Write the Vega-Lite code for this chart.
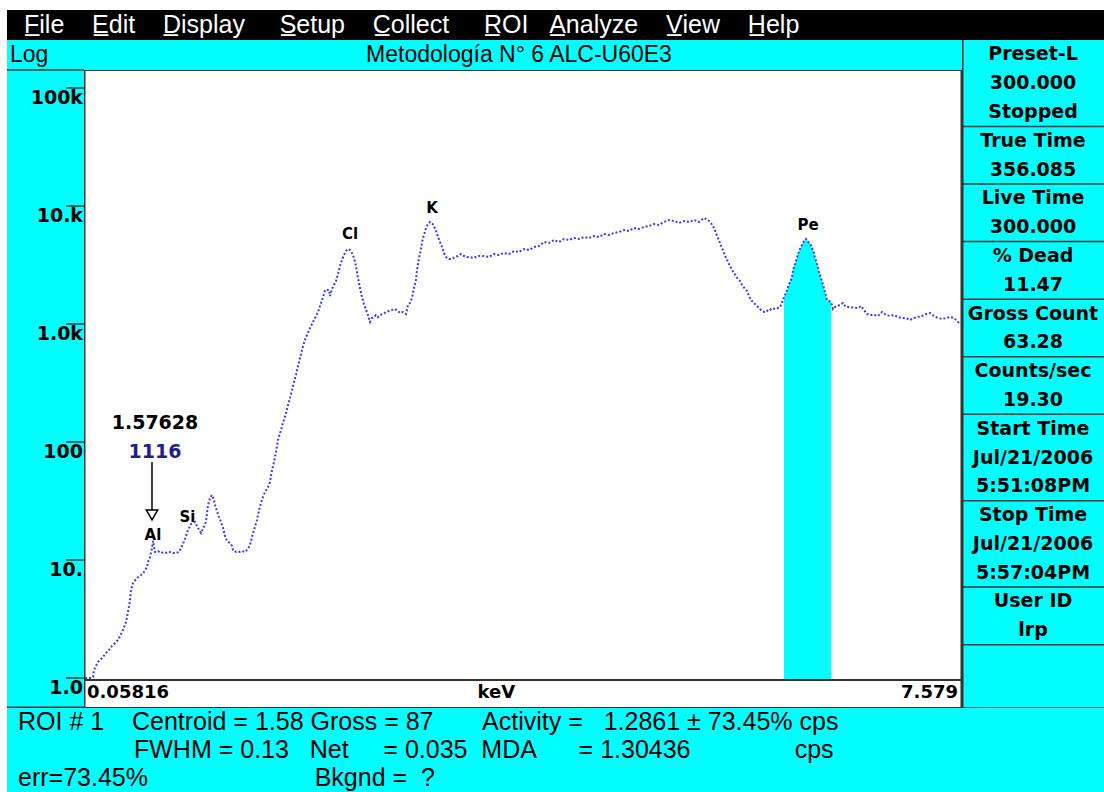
{
  "$schema": "https://vega.github.io/schema/vega-lite/v6.json",
  "background": "white",
  "padding": {"left": 7, "top": 10, "right": 0, "bottom": 0},
  "spacing": 0,
  "config": {"view": {"stroke": null}, "concat": {"spacing": 0}},
  "datasets": {
    "menu": [{"t": "F\u0332ile\u00a0\u00a0\u00a0\u00a0E\u0332dit\u00a0\u00a0\u00a0\u00a0D\u0332isplay\u00a0\u00a0\u00a0\u00a0\u00a0S\u0332etup\u00a0\u00a0\u00a0\u00a0C\u0332ollect\u00a0\u00a0\u00a0\u00a0\u00a0R\u0332OI\u00a0\u00a0\u00a0A\u0332nalyze\u00a0\u00a0\u00a0\u00a0V\u0332iew\u00a0\u00a0\u00a0\u00a0H\u0332elp"}],
    "ticks": [
      {"v": 1, "label": "1.0"}, {"v": 10, "label": "10."}, {"v": 100, "label": "100"},
      {"v": 1000, "label": "1.0k"}, {"v": 10000, "label": "10.k"}, {"v": 100000, "label": "100k"}
    ],
    "status": [
      {"row": 1, "t": "ROI # 1\u00a0\u00a0\u00a0\u00a0Centroid = 1.58 Gross = 87\u00a0\u00a0\u00a0\u00a0\u00a0\u00a0\u00a0Activity =\u00a0\u00a0\u00a01.2861 ± 73.45% cps"},
      {"row": 3, "t": "err=73.45%\u00a0\u00a0\u00a0\u00a0\u00a0\u00a0\u00a0\u00a0\u00a0\u00a0\u00a0\u00a0\u00a0\u00a0\u00a0\u00a0\u00a0\u00a0\u00a0\u00a0\u00a0\u00a0\u00a0\u00a0Bkgnd =\u00a0\u00a0?"}
    ],
    "status2": [
      {"row": 2, "t": "FWHM = 0.13\u00a0\u00a0\u00a0Net\u00a0\u00a0\u00a0\u00a0\u00a0= 0.035\u00a0\u00a0MDA\u00a0\u00a0\u00a0\u00a0\u00a0\u00a0= 1.30436\u00a0\u00a0\u00a0\u00a0\u00a0\u00a0\u00a0\u00a0\u00a0\u00a0\u00a0\u00a0\u00a0\u00a0\u00a0cps"}
    ],
    "side": [
      {"line": 0, "t": "Preset-L"}, {"line": 1, "t": "300.000"}, {"line": 2, "t": "Stopped"},
      {"line": 3, "t": "True Time"}, {"line": 4, "t": "356.085"},
      {"line": 5, "t": "Live Time"}, {"line": 6, "t": "300.000"},
      {"line": 7, "t": "% Dead"}, {"line": 8, "t": "11.47"},
      {"line": 9, "t": "Gross Count"}, {"line": 10, "t": "63.28"},
      {"line": 11, "t": "Counts/sec"}, {"line": 12, "t": "19.30"},
      {"line": 13, "t": "Start Time"}, {"line": 14, "t": "Jul/21/2006"}, {"line": 15, "t": "5:51:08PM"},
      {"line": 16, "t": "Stop Time"}, {"line": 17, "t": "Jul/21/2006"}, {"line": 18, "t": "5:57:04PM"},
      {"line": 19, "t": "User ID"}, {"line": 20, "t": "lrp"}
    ],
    "sideSep": [{"b": 2.5}, {"b": 4.5}, {"b": 6.5}, {"b": 8.5}, {"b": 10.5}, {"b": 12.5}, {"b": 15.5}, {"b": 18.5}, {"b": 20.5}, {"b": 22.7}],
    "peaks": [
      {"e": 0.6492, "c": 16.29, "t": "Al"},
      {"e": 0.9447, "c": 22.92, "t": "Si"},
      {"e": 2.3367, "c": 5790, "t": "Cl"},
      {"e": 3.0391, "c": 9618, "t": "K"},
      {"e": 6.2599, "c": 6902, "t": "Pe"}
    ],
    "spectrum": [
      {"e": 0.0667, "c": 1}, {"e": 0.0839, "c": 1}, {"e": 0.101, "c": 1}, {"e": 0.1181, "c": 1}, {"e": 0.1353, "c": 1.02},
      {"e": 0.1438, "c": 1.169}, {"e": 0.161, "c": 1.264}, {"e": 0.1781, "c": 1.366}, {"e": 0.1952, "c": 1.421},
      {"e": 0.2209, "c": 1.507}, {"e": 0.2466, "c": 1.629}, {"e": 0.2723, "c": 1.727}, {"e": 0.298, "c": 1.867},
      {"e": 0.3237, "c": 1.98}, {"e": 0.3494, "c": 2.099}, {"e": 0.3665, "c": 2.27}, {"e": 0.3922, "c": 2.551},
      {"e": 0.4179, "c": 2.983}, {"e": 0.4351, "c": 3.625}, {"e": 0.4522, "c": 4.581}, {"e": 0.4608, "c": 5.569},
      {"e": 0.4779, "c": 6.39}, {"e": 0.5122, "c": 7.04}, {"e": 0.5464, "c": 7.464}, {"e": 0.5721, "c": 7.912},
      {"e": 0.5978, "c": 8.72}, {"e": 0.6064, "c": 9.62}, {"e": 0.6235, "c": 10.6}, {"e": 0.6406, "c": 12.64},
      {"e": 0.6492, "c": 14.49}, {"e": 0.6663, "c": 11.69}, {"e": 0.692, "c": 11.92}, {"e": 0.7177, "c": 11.47},
      {"e": 0.7434, "c": 11.69}, {"e": 0.7691, "c": 11.47}, {"e": 0.7948, "c": 11.69}, {"e": 0.8205, "c": 11.47},
      {"e": 0.8462, "c": 11.47}, {"e": 0.8719, "c": 11.69}, {"e": 0.8976, "c": 13.14}, {"e": 0.9233, "c": 15.07},
      {"e": 0.949, "c": 17.96}, {"e": 0.9747, "c": 20.19}, {"e": 1.009, "c": 20.99}, {"e": 1.0347, "c": 18.67},
      {"e": 1.0604, "c": 16.93}, {"e": 1.1032, "c": 20.99}, {"e": 1.1203, "c": 29.25}, {"e": 1.1375, "c": 33.53},
      {"e": 1.1546, "c": 35.55}, {"e": 1.1717, "c": 32.25}, {"e": 1.1803, "c": 29.25}, {"e": 1.1974, "c": 26.02},
      {"e": 1.2146, "c": 23.14}, {"e": 1.2317, "c": 20.99}, {"e": 1.2488, "c": 18.67}, {"e": 1.266, "c": 15.97},
      {"e": 1.2831, "c": 14.49}, {"e": 1.3088, "c": 13.93}, {"e": 1.3259, "c": 13.14}, {"e": 1.3345, "c": 12.15},
      {"e": 1.3602, "c": 11.69}, {"e": 1.3859, "c": 11.69}, {"e": 1.4116, "c": 11.92}, {"e": 1.4373, "c": 11.69},
      {"e": 1.463, "c": 12.4}, {"e": 1.4801, "c": 13.4}, {"e": 1.4972, "c": 15.66}, {"e": 1.5144, "c": 17.96},
      {"e": 1.5401, "c": 21.83}, {"e": 1.5572, "c": 26.53}, {"e": 1.5743, "c": 30.42}, {"e": 1.5915, "c": 34.2},
      {"e": 1.6086, "c": 37.7}, {"e": 1.6343, "c": 41.55}, {"e": 1.6514, "c": 45.81}, {"e": 1.6686, "c": 57.91},
      {"e": 1.6857, "c": 67.7}, {"e": 1.7028, "c": 82.3}, {"e": 1.7199, "c": 103.97}, {"e": 1.7456, "c": 126.4},
      {"e": 1.7628, "c": 144.9}, {"e": 1.7885, "c": 176.1}, {"e": 1.8056, "c": 205.9}, {"e": 1.8227, "c": 236},
      {"e": 1.8399, "c": 275.9}, {"e": 1.857, "c": 322.5}, {"e": 1.8741, "c": 369.7}, {"e": 1.8913, "c": 440.8},
      {"e": 1.9084, "c": 515}, {"e": 1.9255, "c": 602.2}, {"e": 1.9427, "c": 690.2}, {"e": 1.9598, "c": 775.9},
      {"e": 1.9769, "c": 838.9}, {"e": 1.9941, "c": 924.9}, {"e": 2.0112, "c": 1000}, {"e": 2.0283, "c": 1081},
      {"e": 2.0455, "c": 1169}, {"e": 2.0626, "c": 1264}, {"e": 2.0797, "c": 1421}, {"e": 2.0968, "c": 1597},
      {"e": 2.114, "c": 1796}, {"e": 2.1225, "c": 1941}, {"e": 2.1397, "c": 1941}, {"e": 2.1568, "c": 1941},
      {"e": 2.1654, "c": 1727}, {"e": 2.1825, "c": 1980}, {"e": 2.1996, "c": 2141}, {"e": 2.2168, "c": 2314},
      {"e": 2.2339, "c": 2653}, {"e": 2.251, "c": 3101}, {"e": 2.2682, "c": 3486}, {"e": 2.2853, "c": 3843},
      {"e": 2.3024, "c": 4156}, {"e": 2.3196, "c": 4322}, {"e": 2.3367, "c": 4238}, {"e": 2.3538, "c": 3997},
      {"e": 2.371, "c": 3625}, {"e": 2.3881, "c": 3101}, {"e": 2.4052, "c": 2454}, {"e": 2.4223, "c": 2019},
      {"e": 2.4395, "c": 1693}, {"e": 2.4566, "c": 1477}, {"e": 2.4737, "c": 1314}, {"e": 2.4909, "c": 1192},
      {"e": 2.508, "c": 1040}, {"e": 2.5251, "c": 1124}, {"e": 2.5423, "c": 1146}, {"e": 2.5594, "c": 1192},
      {"e": 2.5765, "c": 1146}, {"e": 2.5937, "c": 1192}, {"e": 2.6194, "c": 1215}, {"e": 2.6451, "c": 1264},
      {"e": 2.6708, "c": 1289}, {"e": 2.6965, "c": 1314}, {"e": 2.7222, "c": 1340}, {"e": 2.7479, "c": 1289},
      {"e": 2.765, "c": 1239}, {"e": 2.7907, "c": 1264}, {"e": 2.8164, "c": 1215}, {"e": 2.8335, "c": 1449},
      {"e": 2.8506, "c": 1507}, {"e": 2.8678, "c": 1661}, {"e": 2.8849, "c": 2019}, {"e": 2.902, "c": 2360},
      {"e": 2.9106, "c": 2868}, {"e": 2.9277, "c": 3625}, {"e": 2.9449, "c": 4322}, {"e": 2.9534, "c": 4954},
      {"e": 2.9706, "c": 5679}, {"e": 2.9877, "c": 6510}, {"e": 3.0048, "c": 7039}, {"e": 3.022, "c": 7319},
      {"e": 3.0391, "c": 7177}, {"e": 3.0562, "c": 6769}, {"e": 3.0734, "c": 6140}, {"e": 3.0905, "c": 5462},
      {"e": 3.1076, "c": 4954}, {"e": 3.1248, "c": 4494}, {"e": 3.1419, "c": 3997}, {"e": 3.159, "c": 3697},
      {"e": 3.1847, "c": 3555}, {"e": 3.2104, "c": 3555}, {"e": 3.2361, "c": 3697}, {"e": 3.2618, "c": 3771},
      {"e": 3.2875, "c": 3920}, {"e": 3.3132, "c": 3771}, {"e": 3.3389, "c": 3697}, {"e": 3.3646, "c": 3697},
      {"e": 3.3903, "c": 3625}, {"e": 3.416, "c": 3697}, {"e": 3.4417, "c": 3771}, {"e": 3.4845, "c": 3771},
      {"e": 3.5274, "c": 3697}, {"e": 3.5702, "c": 3920}, {"e": 3.613, "c": 3843}, {"e": 3.6558, "c": 3997},
      {"e": 3.6987, "c": 3920}, {"e": 3.7415, "c": 4156}, {"e": 3.7843, "c": 4076}, {"e": 3.8272, "c": 4322},
      {"e": 3.87, "c": 4238}, {"e": 3.9128, "c": 4494}, {"e": 3.9556, "c": 4581}, {"e": 3.9985, "c": 4954},
      {"e": 4.0413, "c": 4859}, {"e": 4.0841, "c": 5150}, {"e": 4.127, "c": 4954}, {"e": 4.1698, "c": 5252},
      {"e": 4.2126, "c": 5150}, {"e": 4.2555, "c": 5356}, {"e": 4.2983, "c": 5252}, {"e": 4.3411, "c": 5462},
      {"e": 4.3839, "c": 5356}, {"e": 4.4268, "c": 5569}, {"e": 4.4696, "c": 5462}, {"e": 4.5124, "c": 5790},
      {"e": 4.5553, "c": 5679}, {"e": 4.5981, "c": 5905}, {"e": 4.6409, "c": 6022}, {"e": 4.6838, "c": 6261},
      {"e": 4.7266, "c": 6140}, {"e": 4.7694, "c": 6510}, {"e": 4.8122, "c": 6385}, {"e": 4.8551, "c": 6637},
      {"e": 4.8979, "c": 6769}, {"e": 4.9407, "c": 7039}, {"e": 4.9836, "c": 6902}, {"e": 5.0264, "c": 7319},
      {"e": 5.0692, "c": 7610}, {"e": 5.112, "c": 7464}, {"e": 5.1549, "c": 7177}, {"e": 5.1977, "c": 7464},
      {"e": 5.2405, "c": 7319}, {"e": 5.2834, "c": 7610}, {"e": 5.3262, "c": 7319}, {"e": 5.369, "c": 7912},
      {"e": 5.4033, "c": 7610}, {"e": 5.429, "c": 7177}, {"e": 5.4547, "c": 6510}, {"e": 5.4718, "c": 5905},
      {"e": 5.4889, "c": 5356}, {"e": 5.5061, "c": 4859}, {"e": 5.5232, "c": 4408}, {"e": 5.5403, "c": 3997},
      {"e": 5.5575, "c": 3625}, {"e": 5.5746, "c": 3353}, {"e": 5.5917, "c": 3101}, {"e": 5.6089, "c": 2868},
      {"e": 5.626, "c": 2706}, {"e": 5.6431, "c": 2552}, {"e": 5.6603, "c": 2407}, {"e": 5.6774, "c": 2314},
      {"e": 5.6945, "c": 2141}, {"e": 5.7202, "c": 1980}, {"e": 5.7374, "c": 1904}, {"e": 5.7545, "c": 1727},
      {"e": 5.7716, "c": 1597}, {"e": 5.7973, "c": 1507}, {"e": 5.823, "c": 1421}, {"e": 5.8487, "c": 1340},
      {"e": 5.8658, "c": 1289}, {"e": 5.883, "c": 1264}, {"e": 5.9001, "c": 1264}, {"e": 5.9172, "c": 1314},
      {"e": 5.9344, "c": 1314}, {"e": 5.9515, "c": 1367}, {"e": 5.9772, "c": 1340}, {"e": 6.0029, "c": 1367},
      {"e": 6.02, "c": 1394}, {"e": 6.0372, "c": 1507}, {"e": 6.0543, "c": 1693}, {"e": 6.0714, "c": 1831},
      {"e": 6.0886, "c": 2059}, {"e": 6.1057, "c": 2269}, {"e": 6.1228, "c": 2502}, {"e": 6.1314, "c": 2868},
      {"e": 6.1485, "c": 3225}, {"e": 6.1656, "c": 3625}, {"e": 6.1742, "c": 3920}, {"e": 6.1913, "c": 4322},
      {"e": 6.2085, "c": 4673}, {"e": 6.2256, "c": 5051}, {"e": 6.2427, "c": 5252}, {"e": 6.2599, "c": 4954},
      {"e": 6.277, "c": 4859}, {"e": 6.2941, "c": 4408}, {"e": 6.3113, "c": 3997}, {"e": 6.3198, "c": 3625},
      {"e": 6.337, "c": 3225}, {"e": 6.3541, "c": 2758}, {"e": 6.3712, "c": 2454}, {"e": 6.3884, "c": 2141},
      {"e": 6.4055, "c": 1867}, {"e": 6.4226, "c": 1597}, {"e": 6.4398, "c": 1566}, {"e": 6.4569, "c": 1536},
      {"e": 6.474, "c": 1340}, {"e": 6.4912, "c": 1394}, {"e": 6.5083, "c": 1421}, {"e": 6.534, "c": 1449},
      {"e": 6.5597, "c": 1507}, {"e": 6.5854, "c": 1394}, {"e": 6.6882, "c": 1367}, {"e": 6.7139, "c": 1421},
      {"e": 6.7396, "c": 1314}, {"e": 6.7653, "c": 1215}, {"e": 6.791, "c": 1192}, {"e": 6.8252, "c": 1192},
      {"e": 6.8595, "c": 1169}, {"e": 6.8937, "c": 1264}, {"e": 6.928, "c": 1192}, {"e": 6.9623, "c": 1169},
      {"e": 6.9965, "c": 1192}, {"e": 7.0308, "c": 1146}, {"e": 7.0651, "c": 1124}, {"e": 7.0993, "c": 1124},
      {"e": 7.1336, "c": 1081}, {"e": 7.1679, "c": 1124}, {"e": 7.2021, "c": 1146}, {"e": 7.2364, "c": 1169},
      {"e": 7.2706, "c": 1215}, {"e": 7.3049, "c": 1239}, {"e": 7.3392, "c": 1169}, {"e": 7.3734, "c": 1124},
      {"e": 7.4077, "c": 1103}, {"e": 7.442, "c": 1124}, {"e": 7.4762, "c": 1146}, {"e": 7.5105, "c": 1124},
      {"e": 7.5448, "c": 1040}, {"e": 7.5705, "c": 1000}
    ]
  },
  "vconcat": [
    {
      "width": 1097,
      "height": 30,
      "view": {"fill": "#000000", "stroke": null},
      "data": {"name": "menu"},
      "mark": {"type": "text", "align": "left", "baseline": "middle", "font": "Liberation Sans", "fontSize": 25, "color": "#ffffff", "clip": true},
      "encoding": {"x": {"value": 17}, "text": {"field": "t"}}
    },
    {
      "spacing": 0,
      "hconcat": [
        {
          "width": 77,
          "height": 668,
          "view": {"fill": "#00ffff", "stroke": null},
          "layer": [
            {
              "data": {"name": "ticks"},
              "mark": {"type": "tick", "orient": "horizontal", "size": 18, "thickness": 1.5, "xOffset": 29.5, "color": "#333333", "opacity": 1, "clip": true},
              "encoding": {
                "y": {"field": "v", "type": "quantitative", "scale": {"type": "log", "domain": [0.5568, 255200], "nice": false}, "axis": null}
              }
            },
            {
              "data": {"name": "ticks"},
              "mark": {"type": "text", "align": "right", "baseline": "top", "dx": 37.5, "dy": 1, "font": "DejaVu Sans", "fontWeight": "bold", "fontSize": 19, "color": "#000000", "clip": true},
              "encoding": {
                "y": {"field": "v", "type": "quantitative"},
                "text": {"field": "label"}
              }
            },
            {
              "data": {"values": [{"c": 142100}]},
              "mark": {"type": "rule", "color": "#333333", "strokeWidth": 1.5, "clip": true},
              "encoding": {"y": {"field": "c", "type": "quantitative"}}
            },
            {
              "data": {"values": [{"c": 0.5568}]},
              "mark": {"type": "rule", "color": "#333333", "strokeWidth": 3, "clip": true},
              "encoding": {"y": {"field": "c", "type": "quantitative"}}
            },
            {
              "data": {"values": [{"t": "Log"}]},
              "mark": {"type": "text", "align": "left", "baseline": "middle", "font": "Liberation Sans", "fontSize": 23, "color": "#000000", "clip": true},
              "encoding": {"x": {"value": 3}, "y": {"value": 15}, "text": {"field": "t"}}
            }
          ]
        },
        {
          "spacing": 0,
          "vconcat": [
            {
              "width": 878,
              "height": 30,
              "view": {"fill": "#00ffff", "stroke": null},
              "data": {"values": [{"t": "Metodología N° 6  ALC-U60E3"}]},
              "mark": {"type": "text", "align": "center", "baseline": "middle", "font": "Liberation Sans", "fontSize": 23, "color": "#000000", "dx": -4, "clip": true},
              "encoding": {"text": {"field": "t"}}
            },
            {
              "width": 878,
              "height": 638,
              "view": {"fill": "#ffffff", "stroke": null},
              "layer": [
                {
                  "data": {"name": "spectrum"},
                  "transform": [{"filter": {"field": "e", "range": [6.05, 6.46]}}],
                  "mark": {"type": "area", "color": "#00ffff", "opacity": 1, "clip": true},
                  "encoding": {
                    "x": {"field": "e", "type": "quantitative", "scale": {"domain": [0.05816, 7.579], "nice": false, "zero": false}, "axis": null},
                    "y": {"field": "c", "type": "quantitative", "scale": {"type": "log", "domain": [0.5568, 142100], "nice": false}, "axis": null},
                    "y2": {"datum": 0.9617}
                  }
                },
                {
                  "data": {"name": "spectrum"},
                  "mark": {"type": "line", "color": "#3838ff", "strokeWidth": 2, "strokeDash": [2, 2], "clip": true},
                  "encoding": {
                    "x": {"field": "e", "type": "quantitative", "axis": null},
                    "y": {"field": "c", "type": "quantitative", "axis": null}
                  }
                },
                {
                  "data": {"values": [{"c": 0.9617, "w": "sep"}, {"c": 142100, "w": "top"}, {"c": 0.5568, "w": "bottom"}]},
                  "mark": {"type": "rule", "color": "#333333", "strokeWidth": 2, "clip": true},
                  "encoding": {"y": {"field": "c", "type": "quantitative", "axis": null}}
                },
                {
                  "data": {"values": [{"e": 0.05816}, {"e": 7.579}]},
                  "mark": {"type": "rule", "color": "#333333", "strokeWidth": 3, "clip": true},
                  "encoding": {"x": {"field": "e", "type": "quantitative", "axis": null}}
                },
                {
                  "data": {"values": [{"e": 0.05816, "c": 0.746, "t": "0.05816"}]},
                  "mark": {"type": "text", "align": "left", "baseline": "middle", "dx": 3, "font": "DejaVu Sans", "fontWeight": "bold", "fontSize": 18, "color": "#000000", "clip": true},
                  "encoding": {"x": {"field": "e", "type": "quantitative"}, "y": {"field": "c", "type": "quantitative"}, "text": {"field": "t"}}
                },
                {
                  "data": {"values": [{"e": 3.59, "c": 0.746, "t": "keV"}]},
                  "mark": {"type": "text", "align": "center", "baseline": "middle", "font": "DejaVu Sans", "fontWeight": "bold", "fontSize": 18, "color": "#000000", "clip": true},
                  "encoding": {"x": {"field": "e", "type": "quantitative"}, "y": {"field": "c", "type": "quantitative"}, "text": {"field": "t"}}
                },
                {
                  "data": {"values": [{"e": 7.579, "c": 0.746, "t": "7.579"}]},
                  "mark": {"type": "text", "align": "right", "baseline": "middle", "dx": -4, "font": "DejaVu Sans", "fontWeight": "bold", "fontSize": 18, "color": "#000000", "clip": true},
                  "encoding": {"x": {"field": "e", "type": "quantitative"}, "y": {"field": "c", "type": "quantitative"}, "text": {"field": "t"}}
                },
                {
                  "data": {"name": "peaks"},
                  "mark": {"type": "text", "align": "center", "baseline": "middle", "font": "DejaVu Sans", "fontWeight": "bold", "fontSize": 15, "color": "#000000", "clip": true},
                  "encoding": {"x": {"field": "e", "type": "quantitative"}, "y": {"field": "c", "type": "quantitative"}, "text": {"field": "t"}}
                },
                {
                  "data": {"values": [{"e": 0.6406, "c1": 67.7, "c2": 26.5}]},
                  "mark": {"type": "rule", "color": "#000000", "strokeWidth": 1.5, "clip": true},
                  "encoding": {"x": {"field": "e", "type": "quantitative"}, "y": {"field": "c1", "type": "quantitative"}, "y2": {"field": "c2"}}
                },
                {
                  "data": {"values": [{"e": 0.6406, "c": 24.06}]},
                  "mark": {"type": "point", "shape": "triangle-down", "filled": false, "color": "#000000", "strokeWidth": 1.5, "size": 130, "opacity": 1, "clip": true},
                  "encoding": {"x": {"field": "e", "type": "quantitative"}, "y": {"field": "c", "type": "quantitative"}}
                },
                {
                  "data": {"values": [{"e": 0.6663, "c": 144.9, "t": "1.57628"}]},
                  "mark": {"type": "text", "align": "center", "baseline": "middle", "font": "DejaVu Sans", "fontWeight": "bold", "fontSize": 19, "color": "#000000", "clip": true},
                  "encoding": {"x": {"field": "e", "type": "quantitative"}, "y": {"field": "c", "type": "quantitative"}, "text": {"field": "t"}}
                },
                {
                  "data": {"values": [{"e": 0.6663, "c": 82.3, "t": "1116"}]},
                  "mark": {"type": "text", "align": "center", "baseline": "middle", "font": "DejaVu Sans", "fontWeight": "bold", "fontSize": 19, "color": "#1e1e8c", "clip": true},
                  "encoding": {"x": {"field": "e", "type": "quantitative"}, "y": {"field": "c", "type": "quantitative"}, "text": {"field": "t"}}
                }
              ]
            }
          ]
        },
        {
          "width": 142,
          "height": 668,
          "view": {"fill": "#00ffff", "stroke": null},
          "layer": [
            {
              "data": {"name": "sideSep"},
              "mark": {"type": "rule", "color": "#333333", "strokeWidth": 1.5, "clip": true},
              "encoding": {"y": {"field": "b", "type": "quantitative", "scale": {"domain": [-0.5, 22.7], "reverse": true, "nice": false, "zero": false}, "axis": null}}
            },
            {
              "data": {"values": [{"w": "left"}]},
              "mark": {"type": "rule", "color": "#333333", "strokeWidth": 1.5, "clip": true},
              "encoding": {"x": {"value": 0.75}}
            },
            {
              "data": {"name": "side"},
              "mark": {"type": "text", "align": "center", "baseline": "middle", "font": "DejaVu Sans", "fontWeight": "bold", "fontSize": 19, "color": "#000000", "clip": true},
              "encoding": {"y": {"field": "line", "type": "quantitative"}, "text": {"field": "t"}}
            }
          ]
        }
      ]
    },
    {
      "width": 1097,
      "height": 84,
      "view": {"fill": "#00ffff", "stroke": null},
      "layer": [
        {
          "data": {"name": "status"},
          "mark": {"type": "text", "align": "left", "baseline": "middle", "font": "Liberation Sans", "fontSize": 25, "color": "#000000", "clip": true},
          "encoding": {
            "x": {"value": 11},
            "y": {"field": "row", "type": "ordinal", "scale": {"type": "point", "padding": 0.5, "domain": [1, 2, 3]}, "axis": null},
            "text": {"field": "t"}
          }
        },
        {
          "data": {"name": "status2"},
          "mark": {"type": "text", "align": "left", "baseline": "middle", "font": "Liberation Sans", "fontSize": 25, "color": "#000000", "clip": true},
          "encoding": {
            "x": {"value": 127},
            "y": {"field": "row", "type": "ordinal"},
            "text": {"field": "t"}
          }
        }
      ]
    }
  ]
}
